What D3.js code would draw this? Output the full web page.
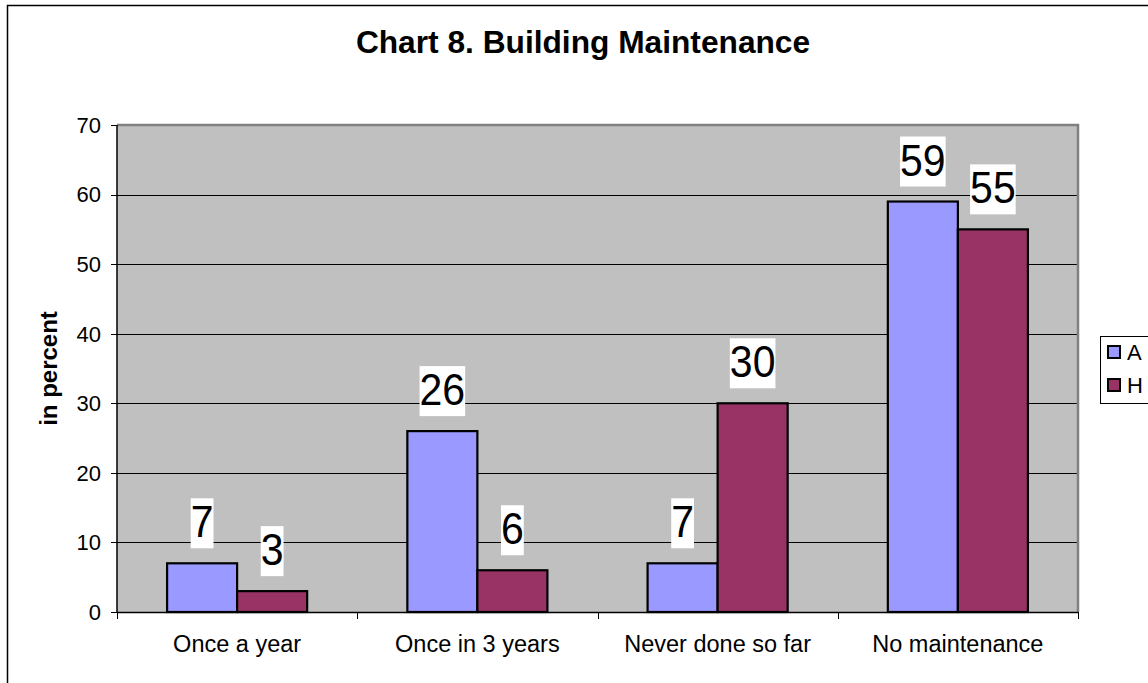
<!DOCTYPE html>
<meta charset="UTF-8">
<style>
body { margin: 0; background: #fff; }
text { font-family: Arial, "Liberation Sans", sans-serif; }
</style>
<body>
<script src="https://cdnjs.cloudflare.com/ajax/libs/d3/7.8.5/d3.min.js"></script>
<script>
// chart data
var categories = ["Once a year", "Once in 3 years", "Never done so far", "No maintenance"];
var seriesNames = ["A", "H"];
var valuesA = [7, 26, 7, 59];
var valuesH = [3, 6, 30, 55];
var yTicks = [0, 10, 20, 30, 40, 50, 60, 70];
var colors = {A: "#9999FF", H: "#993366"};

var width = 1148, height = 683;
var plot = {left: 117, right: 1078, top: 125, bottom: 612};

var svg = d3.select("body").append("svg")
    .attr("width", width)
    .attr("height", height);

// outer chart border
svg.append("rect")
    .attr("x", 7.5).attr("y", 5.5)
    .attr("width", 1160).attr("height", 700)
    .attr("fill", "#fff").attr("stroke", "#000").attr("stroke-width", 1.5);

var x = d3.scaleBand()
    .domain(categories)
    .range([plot.left, plot.right])
    .paddingInner(0.417)
    .paddingOuter(0.2085);

var xs = d3.scaleBand()
    .domain(seriesNames)
    .range([0, x.bandwidth()]);

var y = d3.scaleLinear()
    .domain([0, 70])
    .range([plot.bottom, plot.top]);

// plot background
svg.append("rect")
    .attr("x", plot.left).attr("y", plot.top)
    .attr("width", plot.right - plot.left).attr("height", plot.bottom - plot.top)
    .attr("fill", "#C0C0C0");

// gridlines
svg.append("g").selectAll("line")
    .data(yTicks.filter(function(d){ return d > 0 && d < 70; }))
    .enter().append("line")
    .attr("x1", plot.left).attr("x2", plot.right)
    .attr("y1", function(d){ return Math.round(y(d)) + 0.5; })
    .attr("y2", function(d){ return Math.round(y(d)) + 0.5; })
    .attr("stroke", "#000").attr("stroke-width", 1);

// gray top/right border of plot area
svg.append("path")
    .attr("d", "M" + plot.left + "," + (plot.top) + "H" + (plot.right) + "V" + plot.bottom)
    .attr("fill", "none").attr("stroke", "#808080").attr("stroke-width", 2.5);

// bars
var rows = categories.map(function(c, i){
  return {cat: c, vals: [{s: "A", v: valuesA[i]}, {s: "H", v: valuesH[i]}]};
});

var groups = svg.append("g").selectAll("g")
    .data(rows)
    .enter().append("g")
    .attr("transform", function(d){ return "translate(" + x(d.cat) + ",0)"; });

groups.selectAll("rect")
    .data(function(d){ return d.vals; })
    .enter().append("rect")
    .attr("x", function(d){ return xs(d.s); })
    .attr("y", function(d){ return y(d.v); })
    .attr("width", xs.bandwidth())
    .attr("height", function(d){ return y(0) - y(d.v); })
    .attr("fill", function(d){ return colors[d.s]; })
    .attr("stroke", "#000").attr("stroke-width", 2.2);

// data labels with white boxes (text slightly stretched vertically like the original)
var lab = groups.selectAll("g.lab")
    .data(function(d){ return d.vals; })
    .enter().append("g").attr("class", "lab");

lab.each(function(d){
  var g = d3.select(this);
  var cx = xs(d.s) + xs.bandwidth() / 2;
  var bottom = y(d.v) - 15;
  var base = bottom - 11;
  var t = g.append("text")
      .attr("x", 0).attr("y", 0)
      .attr("transform", "translate(" + cx + "," + base + ") scale(1,1.1)")
      .attr("text-anchor", "middle")
      .attr("font-size", 41)
      .attr("fill", "#000")
      .text(d.v);
  var w = t.node().getComputedTextLength();
  g.insert("rect", "text")
      .attr("x", cx - w / 2).attr("y", bottom - 50)
      .attr("width", w).attr("height", 50)
      .attr("fill", "#fff");
});

// y axis
var yAxis = svg.append("g");
yAxis.append("line")
    .attr("x1", plot.left).attr("x2", plot.left)
    .attr("y1", plot.top).attr("y2", plot.bottom)
    .attr("stroke", "#000").attr("stroke-width", 1.5);
yAxis.selectAll("line.tick")
    .data(yTicks).enter().append("line").attr("class", "tick")
    .attr("x1", plot.left - 6).attr("x2", plot.left)
    .attr("y1", function(d){ return Math.round(y(d)) + 0.5; })
    .attr("y2", function(d){ return Math.round(y(d)) + 0.5; })
    .attr("stroke", "#000");
yAxis.selectAll("text")
    .data(yTicks).enter().append("text")
    .attr("x", plot.left - 16)
    .attr("y", function(d){ return y(d); })
    .attr("dy", "0.36em")
    .attr("text-anchor", "end")
    .attr("font-size", 22)
    .text(function(d){ return d; });

// x axis
var xAxis = svg.append("g");
xAxis.append("line")
    .attr("x1", plot.left).attr("x2", plot.right)
    .attr("y1", plot.bottom + 0.5).attr("y2", plot.bottom + 0.5)
    .attr("stroke", "#000").attr("stroke-width", 1.5);
var step = x.step();
xAxis.selectAll("line.tick")
    .data(d3.range(categories.length + 1)).enter().append("line").attr("class", "tick")
    .attr("x1", function(i){ return Math.round(plot.left + i * step) + 0.5; })
    .attr("x2", function(i){ return Math.round(plot.left + i * step) + 0.5; })
    .attr("y1", plot.bottom).attr("y2", plot.bottom + 7)
    .attr("stroke", "#000");
xAxis.selectAll("text")
    .data(categories).enter().append("text")
    .attr("x", function(d){ return x(d) + x.bandwidth() / 2; })
    .attr("y", 652)
    .attr("text-anchor", "middle")
    .attr("font-size", 23.5)
    .text(function(d){ return d; });

// axis title
svg.append("text")
    .attr("transform", "translate(57," + ((plot.top + plot.bottom) / 2) + ") rotate(-90)")
    .attr("text-anchor", "middle")
    .attr("font-size", 24)
    .attr("font-weight", "bold")
    .text("in percent");

// chart title
svg.append("text")
    .attr("x", 583).attr("y", 53)
    .attr("text-anchor", "middle")
    .attr("font-size", 31.7)
    .attr("font-weight", "bold")
    .text("Chart 8. Building Maintenance");

// legend
var legend = svg.append("g").attr("transform", "translate(1100,336)");
legend.append("rect")
    .attr("x", 0.5).attr("y", 0.5)
    .attr("width", 80).attr("height", 67)
    .attr("fill", "#fff").attr("stroke", "#000");
var li = legend.selectAll("g.item")
    .data(seriesNames).enter().append("g").attr("class", "item")
    .attr("transform", function(d, i){ return "translate(0," + (i * 33) + ")"; });
li.append("rect")
    .attr("x", 8).attr("y", 10)
    .attr("width", 12).attr("height", 12)
    .attr("fill", function(d){ return colors[d]; })
    .attr("stroke", "#000").attr("stroke-width", 2);
li.append("text")
    .attr("x", 27).attr("y", 24)
    .attr("font-size", 22)
    .text(function(d){ return d; });
</script>
</body>
